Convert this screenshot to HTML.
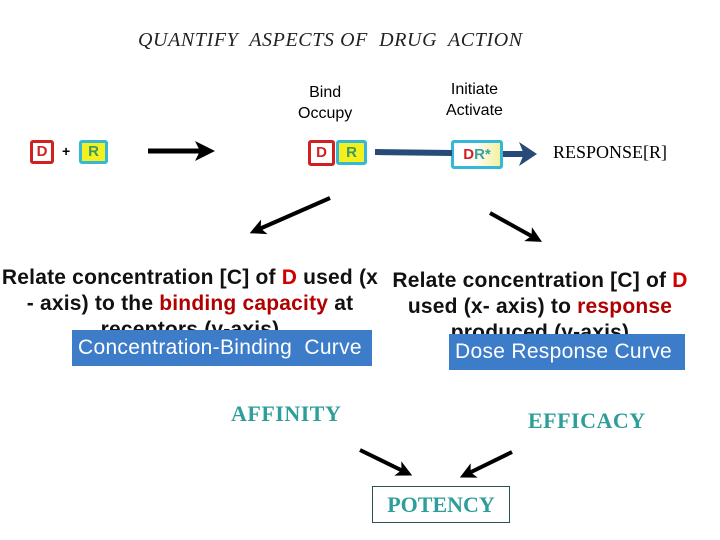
<!DOCTYPE html>
<html><head><meta charset="utf-8"><style>
body{margin:0;width:720px;height:540px;background:#fff;position:relative;overflow:hidden;font-family:"Liberation Sans",Arial,sans-serif}
.a{position:absolute;white-space:nowrap}
.t{font-size:21px;font-weight:bold;color:#111;text-align:center;line-height:26px;letter-spacing:0.2px}
.r{color:#b00000}
.box{position:absolute;box-sizing:border-box;font-weight:bold;font-size:15px;text-align:center;border-radius:3px}
.blue{position:absolute;background:#3d7cc9;color:#fff;font-size:21px;overflow:hidden;white-space:nowrap;box-sizing:border-box;letter-spacing:0.3px}
.serif{font-family:"Liberation Serif",serif;font-weight:bold;color:#2e9e9a;font-size:22px}
</style></head><body>
<div class="a" style="left:138px;top:29px;font-family:'Liberation Serif',serif;font-size:20px;color:#222;font-style:italic;letter-spacing:0.6px">QUANTIFY&nbsp; ASPECTS OF&nbsp; DRUG&nbsp; ACTION</div>
<div class="a" style="left:298px;top:82px;font-size:16px;text-align:center;line-height:21px">Bind<br>Occupy</div>
<div class="a" style="left:446px;top:79px;font-size:16px;text-align:center;line-height:21px">Initiate<br>Activate</div>

<div class="box" style="left:30px;top:140px;width:24px;height:24px;border:3px solid #d02020;color:#d02020;line-height:18px">D</div>
<div class="a" style="left:62px;top:143px;font-size:14px;font-weight:bold">+</div>
<div class="box" style="left:79px;top:140px;width:29px;height:24px;border:3px solid #33b8d8;background:#f4f020;color:#3a9a60;line-height:18px">R</div>

<div class="box" style="left:308px;top:140px;width:27px;height:26px;border:3px solid #d02020;color:#d02020;line-height:20px">D</div>
<div class="box" style="left:336px;top:140px;width:31px;height:25px;border:3px solid #33b8d8;background:#f4f020;color:#3a9a60;line-height:19px">R</div>
<div class="box" style="left:451px;top:140px;width:52px;height:29px;border:3px solid #33b8d8;background:linear-gradient(90deg,#fff 40%,#f4f0a0);line-height:23px"><span style="color:#d02020">D</span><span style="color:#3aa0a0">R*</span></div>
<div class="a" style="left:553px;top:142px;font-family:'Liberation Serif',serif;font-size:18px;color:#000">RESPONSE[R]</div>

<svg class="a" style="left:0;top:0" width="720" height="540">
<defs>
<marker id="k" markerWidth="4" markerHeight="4" refX="2" refY="2" orient="auto"><path d="M0,0L4,2L0,4L1,2Z" fill="#000"/></marker>
<marker id="b" markerWidth="3" markerHeight="4" refX="1" refY="2" orient="auto"><path d="M0,0L3,2L0,4L0.8,2Z" fill="#284a78"/></marker>
</defs>
<line x1="148" y1="151" x2="205" y2="151" stroke="#000" stroke-width="5" marker-end="url(#k)"/>
<line x1="375" y1="152" x2="452" y2="153" stroke="#284a78" stroke-width="6"/>
<line x1="503" y1="154" x2="525" y2="154" stroke="#284a78" stroke-width="6" marker-end="url(#b)"/>
<line x1="330" y1="198" x2="257" y2="230" stroke="#000" stroke-width="4" marker-end="url(#k)"/>
<line x1="490" y1="213" x2="535" y2="238" stroke="#000" stroke-width="4" marker-end="url(#k)"/>
<line x1="360" y1="450" x2="405" y2="472" stroke="#000" stroke-width="4" marker-end="url(#k)"/>
<line x1="512" y1="452" x2="467" y2="474" stroke="#000" stroke-width="4" marker-end="url(#k)"/>
</svg>

<div class="a t" style="left:-10px;top:265px;width:400px">Relate concentration [C] of <span style="color:#d00000">D</span> used (x<br>- axis) to the <span class="r">binding capacity</span> at<br>receptors (y-axis)</div>
<div class="a t" style="left:375px;top:268px;width:330px">Relate concentration [C] of <span style="color:#d00000">D</span><br>used (x- axis) to <span class="r">response</span><br>produced (y-axis)</div>

<div class="blue" style="left:72px;top:330px;width:300px;height:36px;line-height:36px;padding-left:6px">Concentration-Binding&nbsp; Curve</div>
<div class="blue" style="left:449px;top:334px;width:236px;height:36px;line-height:36px;padding-left:6px">Dose Response Curve</div>

<div class="a serif" style="left:231px;top:401px;letter-spacing:0.5px">AFFINITY</div>
<div class="a serif" style="left:528px;top:408px;letter-spacing:0.5px">EFFICACY</div>
<div class="a serif" style="left:372px;top:486px;width:138px;height:37px;border:1px solid #2a5050;box-sizing:border-box;text-align:center;line-height:35px;font-size:22px">POTENCY</div>
</body></html>
